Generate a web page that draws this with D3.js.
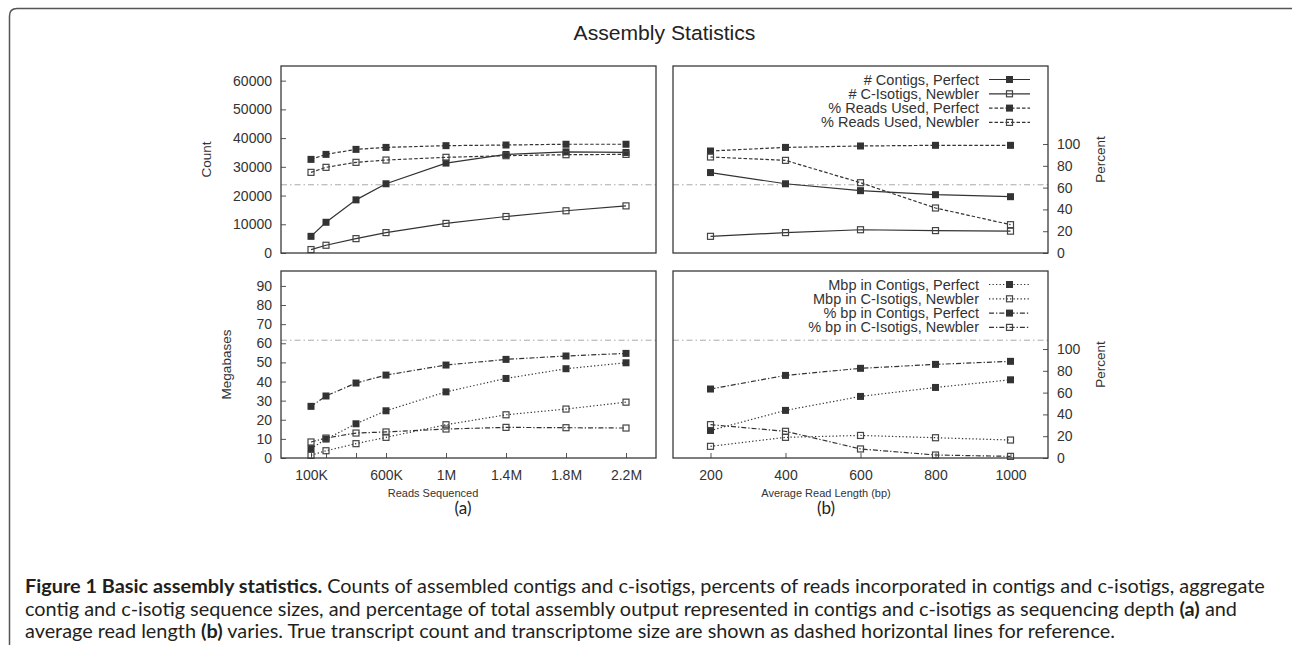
<!DOCTYPE html>
<html><head><meta charset="utf-8">
<script src="https://cdn.jsdelivr.net/npm/d3@7"></script>
<style>
html,body{margin:0;padding:0;background:#fff;}
svg{display:block;}
text{white-space:pre;}
</style></head>
<body>
<svg id="chart" width="1292" height="645"></svg>
<script>
// ---------------- DATA ----------------
const readsSequenced = [100000, 200000, 400000, 600000, 1000000, 1400000, 1800000, 2200000];
const readLength = [200, 400, 600, 800, 1000];

// (a) top: counts (left axis) and percents (right axis)
const contigsPerfectA   = [5800, 10700, 18500, 24100, 31300, 34300, 35200, 35000];
const cisotigsNewblerA  = [1200, 2700, 5000, 7100, 10300, 12700, 14700, 16400];
const readsUsedPerfectA = [85.9, 90.5, 95.1, 96.9, 98.5, 99.1, 99.8, 99.8];
const readsUsedNewblerA = [74.0, 78.6, 83.2, 85.3, 87.8, 89.3, 90.2, 90.5];
// (b) top
const contigsPerfectB   = [28000, 24100, 21700, 20300, 19600];
const cisotigsNewblerB  = [5800, 7100, 8100, 7800, 7600];
const readsUsedPerfectB = [93.6, 96.9, 98.2, 98.8, 98.8];
const readsUsedNewblerB = [88.1, 85.0, 64.5, 41.3, 26.0];
// (a) bottom: megabases (left axis) and percents (right axis)
const mbpContigsPerfectA    = [4.9, 9.9, 17.9, 24.7, 34.6, 41.6, 46.7, 49.8];
const mbpCisotigsNewblerA   = [1.4, 3.8, 7.5, 10.8, 17.4, 22.6, 25.6, 29.2];
const pctBpContigsPerfectA  = [47.4, 56.9, 68.8, 76.1, 85.3, 90.5, 93.6, 96.0];
const pctBpCisotigsNewblerA = [14.7, 18.3, 22.9, 23.9, 26.6, 28.1, 27.8, 27.5];
// (b) bottom
const mbpContigsPerfectB    = [14.4, 24.9, 32.2, 36.9, 40.9];
const mbpCisotigsNewblerB   = [6.1, 10.8, 11.8, 10.6, 9.4];
const pctBpContigsPerfectB  = [63.3, 75.8, 82.3, 85.9, 88.7];
const pctBpCisotigsNewblerB = [30.6, 24.5, 8.3, 2.75, 1.5];

// reference values
const trueTranscriptCount = 23750;
const trueTranscriptomeMb = 61.6;

// ticks
const countTicks = [0, 10000, 20000, 30000, 40000, 50000, 60000];
const mbTicks = [0, 10, 20, 30, 40, 50, 60, 70, 80, 90];
const pctTicks = [0, 20, 40, 60, 80, 100];
const readTickValues = [100000, 600000, 1000000, 1400000, 1800000, 2200000];
const readTickLabels = ["100K", "600K", "1M", "1.4M", "1.8M", "2.2M"];
const readMinorTicks = [200000, 400000];
const lengthTicks = [200, 400, 600, 800, 1000];

const legendTop = ["# Contigs, Perfect", "# C-Isotigs, Newbler", "% Reads Used, Perfect", "% Reads Used, Newbler"];
const legendBottom = ["Mbp in Contigs, Perfect", "Mbp in C-Isotigs, Newbler", "% bp in Contigs, Perfect", "% bp in C-Isotigs, Newbler"];

// ---------------- LAYOUT ----------------
const svg = d3.select('#chart');
const FONT = "'Liberation Sans', Arial, Helvetica, sans-serif";
const CAPFONT = "Lato, 'Open Sans', sans-serif";
const INK = "#333";

const colA = [281, 656], colB = [673, 1048];
const rowTop = [66, 253], rowBot = [271, 458];

const xA = d3.scaleLinear().domain([-100000, 2400000]).range(colA);
const xB = d3.scaleLinear().domain([100, 1100]).range(colB);
const yCount = d3.scaleLinear().domain([0, 65100]).range([rowTop[1], rowTop[0]]);
const yPctTop = d3.scaleLinear().domain([0, 171.6]).range([rowTop[1], rowTop[0]]);
const yMb = d3.scaleLinear().domain([0, 97.8]).range([rowBot[1], rowBot[0]]);
const yPctBot = d3.scaleLinear().domain([0, 171.6]).range([rowBot[1], rowBot[0]]);

const DASH = {solid: null, dashed: "3.5,2", dotted: "1.3,2.2", dashdot: "5,2,1.3,2"};

// outer frame
svg.append('path')
  .attr('d', `M9.5,645 L9.5,16 Q9.5,8.5 17,8.5 L1292,8.5`)
  .attr('fill', 'none').attr('stroke', '#555').attr('stroke-width', 1.5);

// title
const title = svg.append('text').attr('x', 664.5).attr('y', 40)
  .attr('text-anchor', 'middle').attr('font-family', FONT).attr('font-size', 19)
  .attr('fill', '#222').text('Assembly Statistics');

function fit(sel, target) {
  const w = sel.node().getComputedTextLength();
  const fs = parseFloat(sel.attr('font-size'));
  sel.attr('font-size', fs * target / w);
  return target / w;
}
fit(title, 182);

// panel borders
function border(col, row) {
  svg.append('rect').attr('x', col[0]).attr('y', row[0])
    .attr('width', col[1] - col[0]).attr('height', row[1] - row[0])
    .attr('fill', 'none').attr('stroke', '#3a3a3a').attr('stroke-width', 1.3);
}

// reference line
function refLine(col, y) {
  svg.append('line').attr('x1', col[0]).attr('x2', col[1]).attr('y1', y).attr('y2', y)
    .attr('stroke', '#aaa').attr('stroke-width', 1).attr('stroke-dasharray', '6,3,1.5,3');
}
refLine(colA, yCount(trueTranscriptCount));
refLine(colB, yCount(trueTranscriptCount));
refLine(colA, yMb(trueTranscriptomeMb));
refLine(colB, yMb(trueTranscriptomeMb));

// axes helpers
function styleAxis(g, size) {
  g.select('.domain').remove();
  g.selectAll('.tick line').attr('stroke', '#555');
  g.selectAll('text').attr('font-family', FONT).attr('font-size', size || 14).attr('fill', '#333');
}
// left axes
svg.append('g').attr('transform', `translate(${colA[0]},0)`)
  .call(d3.axisLeft(yCount).tickValues(countTicks).tickFormat(d3.format('d')).tickSizeInner(-5).tickSizeOuter(0).tickPadding(9))
  .call(g => styleAxis(g));
svg.append('g').attr('transform', `translate(${colA[0]},0)`)
  .call(d3.axisLeft(yMb).tickValues(mbTicks).tickFormat(d3.format('d')).tickSizeInner(-5).tickSizeOuter(0).tickPadding(9))
  .call(g => styleAxis(g));
// right axes
svg.append('g').attr('transform', `translate(${colB[1]},0)`)
  .call(d3.axisRight(yPctTop).tickValues(pctTicks).tickFormat(d3.format('d')).tickSizeInner(-5).tickSizeOuter(0).tickPadding(9))
  .call(g => styleAxis(g));
svg.append('g').attr('transform', `translate(${colB[1]},0)`)
  .call(d3.axisRight(yPctBot).tickValues(pctTicks).tickFormat(d3.format('d')).tickSizeInner(-5).tickSizeOuter(0).tickPadding(9))
  .call(g => styleAxis(g));
// bottom axes
svg.append('g').attr('transform', `translate(0,${rowBot[1]})`)
  .call(d3.axisBottom(xA).tickValues(readTickValues).tickFormat((d, i) => readTickLabels[i]).tickSizeInner(-5).tickSizeOuter(0).tickPadding(12))
  .call(g => styleAxis(g));
svg.append('g').attr('transform', `translate(0,${rowBot[1]})`)
  .call(d3.axisBottom(xA).tickValues(readMinorTicks).tickFormat('').tickSizeInner(-5).tickSizeOuter(0))
  .call(g => styleAxis(g));
svg.append('g').attr('transform', `translate(0,${rowBot[1]})`)
  .call(d3.axisBottom(xB).tickValues(lengthTicks).tickFormat(d3.format('d')).tickSizeInner(-5).tickSizeOuter(0).tickPadding(12))
  .call(g => styleAxis(g));

// axis titles
function vLabel(x, y, txt, size) {
  svg.append('text').attr('transform', `translate(${x},${y}) rotate(-90)`)
    .attr('text-anchor', 'middle').attr('dy', '0.35em')
    .attr('font-family', FONT).attr('font-size', size).attr('fill', '#333').text(txt);
}
vLabel(206.5, (rowTop[0] + rowTop[1]) / 2, 'Count', 13.5);
vLabel(226.5, (rowBot[0] + rowBot[1]) / 2, 'Megabases', 13.5);
vLabel(1100, (rowTop[0] + rowTop[1]) / 2, 'Percent', 13.5);
vLabel(1100, (rowBot[0] + rowBot[1]) / 2, 'Percent', 13.5);

svg.append('text').attr('x', 433).attr('y', 497).attr('text-anchor', 'middle')
  .attr('font-family', FONT).attr('font-size', 11).attr('fill', '#333').text('Reads Sequenced');
svg.append('text').attr('x', 826).attr('y', 497).attr('text-anchor', 'middle')
  .attr('font-family', FONT).attr('font-size', 11).attr('fill', '#333').text('Average Read Length (bp)');

svg.append('text').attr('x', 463).attr('y', 514).attr('text-anchor', 'middle')
  .attr('font-family', CAPFONT).attr('font-size', 17).attr('fill', '#222').text('(a)');
svg.append('text').attr('x', 826).attr('y', 514).attr('text-anchor', 'middle')
  .attr('font-family', CAPFONT).attr('font-size', 17).attr('fill', '#222').text('(b)');

// series drawing
function drawSeries(xs, vals, x, y, dash, filled) {
  const line = d3.line().x((d, i) => x(xs[i])).y(d => y(d));
  svg.append('path').datum(vals).attr('d', line)
    .attr('fill', 'none').attr('stroke', INK).attr('stroke-width', 1.2)
    .attr('stroke-dasharray', DASH[dash]);
  const g = svg.append('g');
  vals.forEach((v, i) => marker(g, x(xs[i]), y(v), filled));
}
function marker(g, cx, cy, filled) {
  if (filled) {
    g.append('rect').attr('x', cx - 3.5).attr('y', cy - 3.5).attr('width', 7).attr('height', 7).attr('fill', INK);
  } else {
    g.append('rect').attr('x', cx - 3).attr('y', cy - 3).attr('width', 6).attr('height', 6)
      .attr('fill', 'none').attr('stroke', '#444').attr('stroke-width', 1.2);
  }
}

// top row
drawSeries(readsSequenced, contigsPerfectA, xA, yCount, 'solid', true);
drawSeries(readsSequenced, cisotigsNewblerA, xA, yCount, 'solid', false);
drawSeries(readsSequenced, readsUsedPerfectA, xA, yPctTop, 'dashed', true);
drawSeries(readsSequenced, readsUsedNewblerA, xA, yPctTop, 'dashed', false);
drawSeries(readLength, contigsPerfectB, xB, yCount, 'solid', true);
drawSeries(readLength, cisotigsNewblerB, xB, yCount, 'solid', false);
drawSeries(readLength, readsUsedPerfectB, xB, yPctTop, 'dashed', true);
drawSeries(readLength, readsUsedNewblerB, xB, yPctTop, 'dashed', false);
// bottom row
drawSeries(readsSequenced, mbpContigsPerfectA, xA, yMb, 'dotted', true);
drawSeries(readsSequenced, mbpCisotigsNewblerA, xA, yMb, 'dotted', false);
drawSeries(readsSequenced, pctBpContigsPerfectA, xA, yPctBot, 'dashdot', true);
drawSeries(readsSequenced, pctBpCisotigsNewblerA, xA, yPctBot, 'dashdot', false);
drawSeries(readLength, mbpContigsPerfectB, xB, yMb, 'dotted', true);
drawSeries(readLength, mbpCisotigsNewblerB, xB, yMb, 'dotted', false);
drawSeries(readLength, pctBpContigsPerfectB, xB, yPctBot, 'dashdot', true);
drawSeries(readLength, pctBpCisotigsNewblerB, xB, yPctBot, 'dashdot', false);

[rowTop, rowBot].forEach(r => { border(colA, r); border(colB, r); });

// legends
function legend(labels, y0, dashes) {
  const fills = [true, false, true, false];
  labels.forEach((lab, i) => {
    const y = y0 + i * 14.3;
    svg.append('text').attr('x', 979).attr('y', y).attr('dy', '0.35em').attr('text-anchor', 'end')
      .attr('font-family', FONT).attr('font-size', 14.5).attr('fill', '#333').text(lab);
    svg.append('line').attr('x1', 989).attr('x2', 1030).attr('y1', y).attr('y2', y)
      .attr('stroke', INK).attr('stroke-width', 1.2).attr('stroke-dasharray', DASH[dashes[i]]);
    marker(svg, 1009.5, y, fills[i]);
  });
}
legend(legendTop, 79.5, ['solid', 'solid', 'dashed', 'dashed']);
legend(legendBottom, 284.5, ['dotted', 'dotted', 'dashdot', 'dashdot']);

// caption
const captionLines = [
  [["Figure 1 Basic assembly statistics.", true], [" Counts of assembled contigs and c-isotigs, percents of reads incorporated in contigs and c-isotigs, aggregate", false]],
  [["contig and c-isotig sequence sizes, and percentage of total assembly output represented in contigs and c-isotigs as sequencing depth ", false], ["(a)", true], [" and", false]],
  [["average read length ", false], ["(b)", true], [" varies. True transcript count and transcriptome size are shown as dashed horizontal lines for reference.", false]]
];
const capY = [593, 615.5, 638];
const capTexts = captionLines.map((parts, li) => {
  const t = svg.append('text').attr('x', 25).attr('y', capY[li])
    .attr('font-family', CAPFONT).attr('font-size', 17).attr('fill', '#231f20');
  parts.forEach(([s, b]) => t.append('tspan').attr('font-weight', b ? 'bold' : 'normal').text(s));
  return t;
});
const k = capTexts[0].node().getComputedTextLength();
const capSize = 17 * 1240 / k;
capTexts.forEach(t => t.attr('font-size', capSize));
</script>
</body></html>
